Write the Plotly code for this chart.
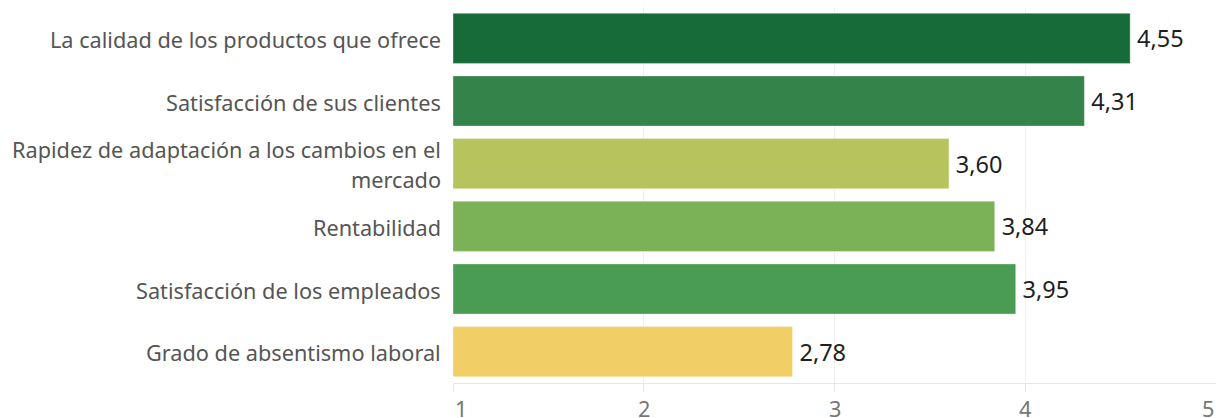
import plotly.graph_objects as go

# Survey results: average score (1-5) per aspect
categories = [
    "La calidad de los productos que ofrece",
    "Satisfacción de sus clientes",
    "Rapidez de adaptación a los cambios en el\nmercado",
    "Rentabilidad",
    "Satisfacción de los empleados",
    "Grado de absentismo laboral",
]
scores = [4.55, 4.31, 3.60, 3.84, 3.95, 2.78]
bar_colors = ["#176B38", "#33834A", "#B7C35C", "#7BB157", "#4A9C52", "#F2CF66"]
x_ticks = [1, 2, 3, 4, 5]

LABEL_FONT = "Noto Sans"

fig = go.Figure()
fig.add_trace(go.Bar(
    y=list(range(len(categories))),
    x=[s - 1 for s in scores],
    base=1,
    orientation="h",
    width=0.8,
    marker=dict(color=bar_colors, line=dict(color="rgba(255,255,255,0.35)", width=1)),
    text=["\u2009" + f"{s:.2f}".replace(".", ",") for s in scores],
    textposition="outside",
    cliponaxis=False,
    textfont=dict(family=LABEL_FONT, size=23.5, color="#1E1E1E"),
    hoverinfo="skip",
))

# Category labels, right-aligned against the axis; wrapped names get one line each
annotations = []
for i, name in enumerate(categories):
    lines = name.split("\n")
    n = len(lines)
    for j, line in enumerate(lines):
        annotations.append(dict(
            x=0, xref="paper", xanchor="right", xshift=-10,
            y=i, yref="y", yanchor="middle",
            yshift=(n - 1) * 15 - j * 30 - 1,
            text=line, showarrow=False,
            font=dict(family=LABEL_FONT, size=21.7, color="#555555"),
        ))

# Axis numbers; the end values are pulled inside the plot edges
for t in x_ticks:
    anchor = "left" if t == x_ticks[0] else ("right" if t == x_ticks[-1] else "center")
    annotations.append(dict(
        x=t, xref="x", xanchor=anchor,
        xshift=0 if anchor == "left" else 0,
        y=0, yref="paper", yanchor="top", yshift=-9,
        text=str(t), showarrow=False,
        font=dict(family=LABEL_FONT, size=21.7, color="#777777"),
    ))

fig.update_layout(
    width=1216, height=418,
    margin=dict(l=453, r=0, t=7, b=35),
    paper_bgcolor="white", plot_bgcolor="white",
    showlegend=False,
    annotations=annotations,
    xaxis=dict(
        range=[1, 5], tickvals=x_ticks, showticklabels=False,
        showgrid=True, gridcolor="#EFEFEF", gridwidth=1,
        zeroline=False, showline=True, linecolor="#E6E6E6", linewidth=1,
        ticks="outside", ticklen=8, tickcolor="#E6E6E6",
        fixedrange=True,
    ),
    yaxis=dict(
        range=[len(categories) - 0.5, -0.5],
        showticklabels=False, showgrid=False, zeroline=False,
        fixedrange=True,
    ),
)

fig.write_html("out.html")
